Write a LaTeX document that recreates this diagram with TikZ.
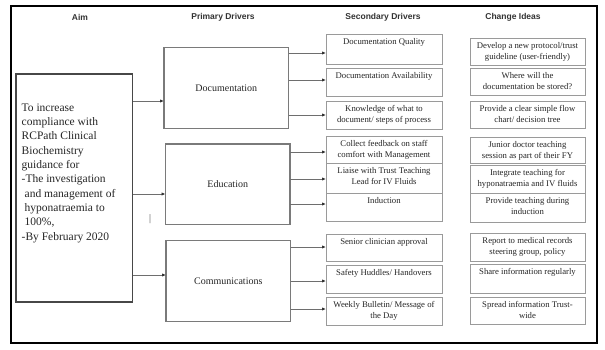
\documentclass[tikz,border=0pt]{standalone}
\usepackage{fontspec}
\setmainfont{Liberation Serif}
\newfontfamily\hdrfont{Liberation Sans}
\usetikzlibrary{arrows.meta}
\definecolor{aimgray}{HTML}{474747}
\definecolor{pgray}{HTML}{7A7A7A}
\definecolor{sgray}{HTML}{9A9A9A}
\definecolor{agray}{HTML}{6E6E6E}
\definecolor{hdrcol}{HTML}{333333}
\tikzset{
  hdr/.style={font=\hdrfont\bfseries\fontsize{8.5}{10}\selectfont, text=hdrcol, inner sep=0pt},
  aimbox/.style={draw=aimgray, line width=1.8pt, inner sep=0pt, outer sep=0pt, anchor=north west},
  pbox/.style={draw=pgray, line width=1.1pt, inner sep=0pt, outer sep=0pt, anchor=north west,
    font=\fontsize{10}{12}\selectfont, text=black!85},
  sbox/.style={draw=sgray, line width=0.9pt, inner sep=0pt, outer sep=0pt, anchor=north west, minimum width=116pt},
  cbox/.style={sbox, minimum width=115pt},
  boxtext/.style={anchor=north, yshift=-3.5pt, inner sep=1pt, align=center,
    font=\fontsize{8.7}{10.8}\selectfont, text=black!85},
  arr/.style={draw=agray, line width=0.8pt, -{Latex[length=4pt,width=3.4pt,color=black!80]}}
}
\begin{document}
\begin{tikzpicture}[x=1pt,y=-1pt]
\useasboundingbox (0,0) rectangle (605,349);
\fill[white] (0,0) rectangle (605,349);
% outer frame
\draw[line width=2.2pt, black] (11.3,5.8) rectangle (596.7,342.8);

% headers
\node[hdr] (h1) at (80,17) {Aim};
\node[hdr] (h2) at (223,17) {Primary Drivers};
\node[hdr] (h3) at (383,17) {Secondary Drivers};
\node[hdr] (h4) at (513,17) {Change Ideas};

% aim
\node[aimbox, minimum width=116.7pt, minimum height=227.5pt] (aim) at (15.8,74.3) {};
\node[anchor=north west, align=left, inner sep=0pt, font=\fontsize{11.5}{14.3}\selectfont, text=black!85] (aimtext) at (21.5,103.5)
 {To increase\\compliance with\\RCPath Clinical\\Biochemistry\\guidance for\\-The investigation\\\hspace{3pt}and management of\\\hspace{3pt}hyponatraemia to\\\hspace{3pt}100\%,\\-By February 2020};
\node[inner sep=0pt, font=\fontsize{10}{12}\selectfont, text=black!70] (bar) at (150,219) {|};

% primary drivers
\node[pbox, minimum width=124.5pt, minimum height=81pt] (doc) at (164,47.3) {Documentation};
\node[pbox, minimum width=124.5pt, minimum height=80.5pt] (edu) at (165.5,144) {Education};
\node[pbox, minimum width=124.5pt, minimum height=81pt] (com) at (166,240.7) {Communications};

% secondary drivers
\node[sbox, minimum height=30pt, label={[boxtext]north:Documentation Quality}] (s1) at (326,34) {};
\node[sbox, minimum height=28pt, label={[boxtext]north:Documentation Availability}] (s2) at (326,68) {};
\node[sbox, minimum height=28pt, label={[boxtext]north:Knowledge of what to\\document/ steps of process}] (s3) at (326,101) {};
\node[sbox, minimum height=27pt, label={[boxtext]north:Collect feedback on staff\\comfort with Management}] (s4) at (326,136) {};
\node[sbox, minimum height=30pt, label={[boxtext]north:Liaise with Trust Teaching\\Lead for IV Fluids}] (s5) at (326,163) {};
\node[sbox, minimum height=28pt, label={[boxtext]north:Induction}] (s6) at (326,193) {};
\node[sbox, minimum height=27pt, label={[boxtext]north:Senior clinician approval}] (s7) at (326,234) {};
\node[sbox, minimum height=28pt, label={[boxtext]north:Safety Huddles/ Handovers}] (s8) at (326,265) {};
\node[sbox, minimum height=28pt, label={[boxtext]north:Weekly Bulletin/ Message of\\the Day}] (s9) at (326,297) {};

% change ideas
\node[cbox, minimum height=27pt, label={[boxtext]north:Develop a new protocol/trust\\guideline (user-friendly)}] (c1) at (470,38) {};
\node[cbox, minimum height=27pt, label={[boxtext]north:Where will the\\documentation be stored?}] (c2) at (470,68) {};
\node[cbox, minimum height=27pt, label={[boxtext]north:Provide a clear simple flow\\chart/ decision tree}] (c3) at (470,101) {};
\node[cbox, minimum height=26pt, label={[boxtext]north:Junior doctor teaching\\session as part of their FY}] (c4) at (470,137) {};
\node[cbox, minimum height=28pt, label={[boxtext]north:Integrate teaching for\\hyponatraemia and IV fluids}] (c5) at (470,165) {};
\node[cbox, minimum height=29pt, label={[boxtext]north:Provide teaching during\\induction}] (c6) at (470,193) {};
\node[cbox, minimum height=28pt, label={[boxtext]north:Report to medical records\\steering group, policy}] (c7) at (470,233) {};
\node[cbox, minimum height=29pt, label={[boxtext]north:Share information regularly}] (c8) at (470,264) {};
\node[cbox, minimum height=27pt, label={[boxtext]north:Spread information Trust-\\wide}] (c9) at (470,297) {};

% aim -> primary
\draw[arr] (aim.east |- 0,101) -- (doc.west |- 0,101);
\draw[arr] (aim.east |- 0,194) -- (edu.west |- 0,194);
\draw[arr] (aim.east |- 0,275) -- (com.west |- 0,275);

% primary -> secondary
\draw[arr] (doc.east |- 0,53) -- (s1.west |- 0,53);
\draw[arr] (doc.east |- 0,80) -- (s2.west |- 0,80);
\draw[arr] (doc.east |- 0,115) -- (s3.west |- 0,115);
\draw[arr] (edu.east |- 0,152) -- (s4.west |- 0,152);
\draw[arr] (edu.east |- 0,179) -- (s5.west |- 0,179);
\draw[arr] (edu.east |- 0,204) -- (s6.west |- 0,204);
\draw[arr] (com.east |- 0,247) -- (s7.west |- 0,247);
\draw[arr] (com.east |- 0,281) -- (s8.west |- 0,281);
\draw[arr] (com.east |- 0,309) -- (s9.west |- 0,309);
\end{tikzpicture}
\end{document}
